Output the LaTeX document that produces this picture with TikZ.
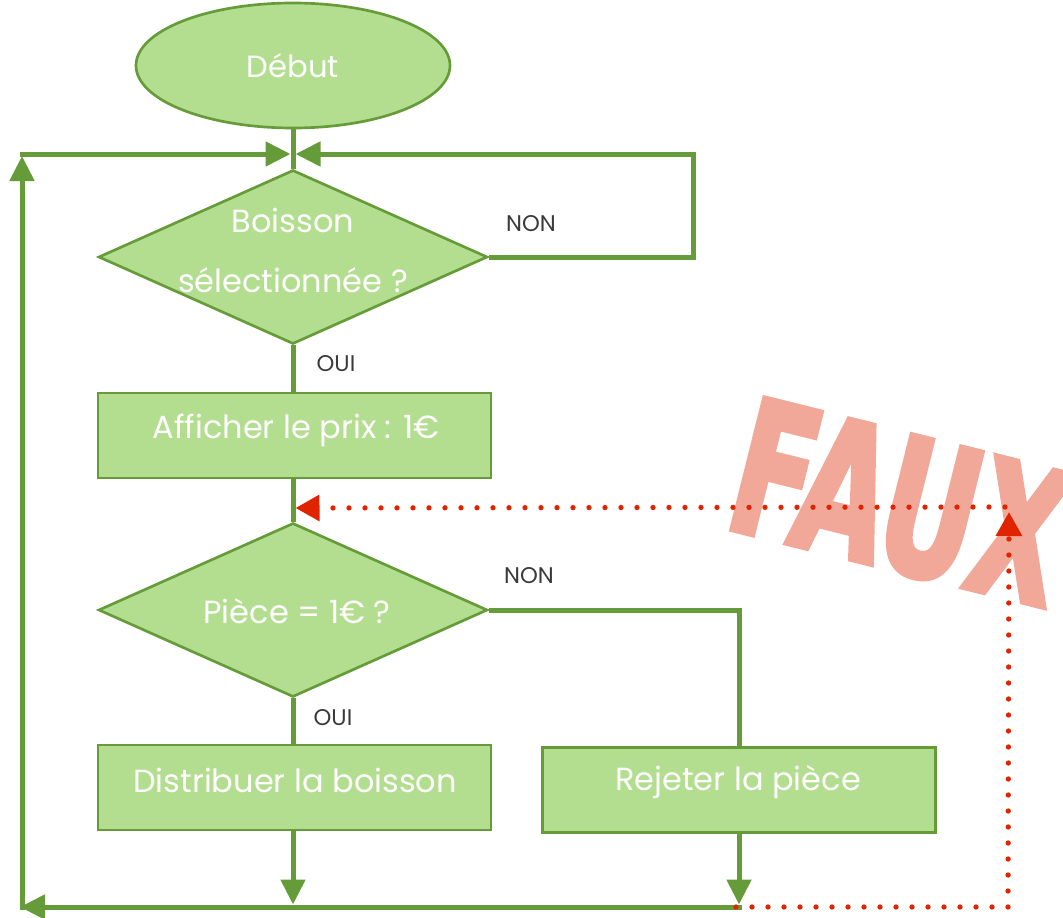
\documentclass[tikz,border=0pt]{standalone}
\usepackage{fontspec}
\setmainfont{Poppins}
\newfontfamily\fauxfont[FakeStretch=0.62,FakeBold=2.5]{DejaVu Sans}
\usetikzlibrary{shapes.geometric,arrows.meta}
\definecolor{fillg}{HTML}{B3DE8F}
\definecolor{lineg}{HTML}{659B39}
\definecolor{redd}{HTML}{E02400}
\definecolor{fauxc}{HTML}{F2A898}
\definecolor{lbl}{HTML}{3A3A3A}
\begin{document}
\begin{tikzpicture}[x=0.75pt,y=-0.75pt,
 box/.style={draw=lineg, line width=2pt, fill=fillg, inner sep=0pt},
 rectbox/.style={box, rectangle, minimum width=294.75pt, minimum height=63.75pt},
 diabox/.style={box, diamond, minimum width=291.75pt, minimum height=130.5pt},
 endbox/.style={box, ellipse, minimum width=235.5pt, minimum height=93.75pt},
 wtext/.style={text=white, font=\fontsize{24}{28}\selectfont, inner sep=0pt},
 lab/.style={text=lbl, font=\fontsize{17}{20}\selectfont, inner sep=0pt},
 flow/.style={draw=lineg, line width=3.75pt},
 tip/.style={-{Triangle[length=18.75pt,width=18pt]}},
 redflow/.style={draw=redd, line width=4pt, line cap=round, dash pattern=on 0pt off 12pt},
 redtip/.style={-{Triangle[length=18pt,width=19pt]}}
]
\useasboundingbox (0,0) rectangle (1063,917);
\clip (0,0) rectangle (1063,917);

% FAUX stamp
\node[rotate=-14, text=fauxc, font=\fauxfont\bfseries\fontsize{140}{140}\selectfont, inner sep=0pt] (faux) at (900,503) {FAUX};

% shapes
\node[endbox] (start) at (293,65.5) {};
\node[wtext, font=\fontsize{23}{27}\selectfont] (tstart) at (start) {Début};
\node[diabox] (d1) at (293,257) {};
\node[wtext] (t1a) at (293,220) {Boisson};
\node[wtext] (t1b) at (293,280) {sélectionnée ?};
\node[rectbox] (aff) at (294.5,435.5) {};
\node[wtext] (taff) at (296,430) {Afficher le prix : 1€};
\node[diabox] (d2) at (293,610) {};
\node[wtext] (t2) at (297,611) {Pièce = 1€ ?};
\node[rectbox] (dist) at (294.5,787.5) {};
\node[wtext] (tdist) at (295,780) {Distribuer la boisson};
\node[rectbox] (rej) at (739,790) {};
\node[wtext] (trej) at (738,782) {Rejeter la pièce};

% labels
\node[lab] (non1) at (531,224) {NON};
\node[lab] (oui1) at (336,364) {OUI};
\node[lab] (non2) at (529,576) {NON};
\node[lab] (oui2) at (333,718) {OUI};

% coordinates
\coordinate (ml) at (290.5,154);
\coordinate (mr) at (295.5,154);
\coordinate (r1) at (693,154);
\coordinate (tl) at (19.5,154);
\coordinate (lt) at (22,156);
\coordinate (lb) at (22,909.5);
\coordinate (bl) at (20,907);
\coordinate (b1) at (293,904.5);
\coordinate (b2) at (739,904.5);
\coordinate (br) at (741.5,907);
\coordinate (rs) at (736,907);
\coordinate (rc) at (1008,907);
\coordinate (ru) at (1009,512);
\coordinate (rh) at (1005,507);
\coordinate (rt) at (295.5,508);

% green connectors
\draw[flow] (start.south) -- (d1.north);
\draw[flow,tip] (tl) -- (ml);
\draw[flow,tip] (d1.east) -| (r1) -- (mr);
\draw[flow] (d1.south) -- (d1.south |- aff.north);
\draw[flow] (d2.north |- aff.south) -- (d2.north);
\draw[flow] (d2.south) -- (d2.south |- dist.north);
\draw[flow] (d2.east) -| (rej.north);
\draw[flow,tip] (b1 |- dist.south) -- (b1);
\draw[flow,tip] (rej.south) -- (b2);
\draw[flow,tip] (br) -- (bl);
\draw[flow,tip] (lb) -- (lt);

% red dotted connectors
\draw[redflow,redtip] (rs) -- (rc) -- (ru);
\draw[redflow,redtip] (rh) -- (rt);
\end{tikzpicture}
\end{document}
